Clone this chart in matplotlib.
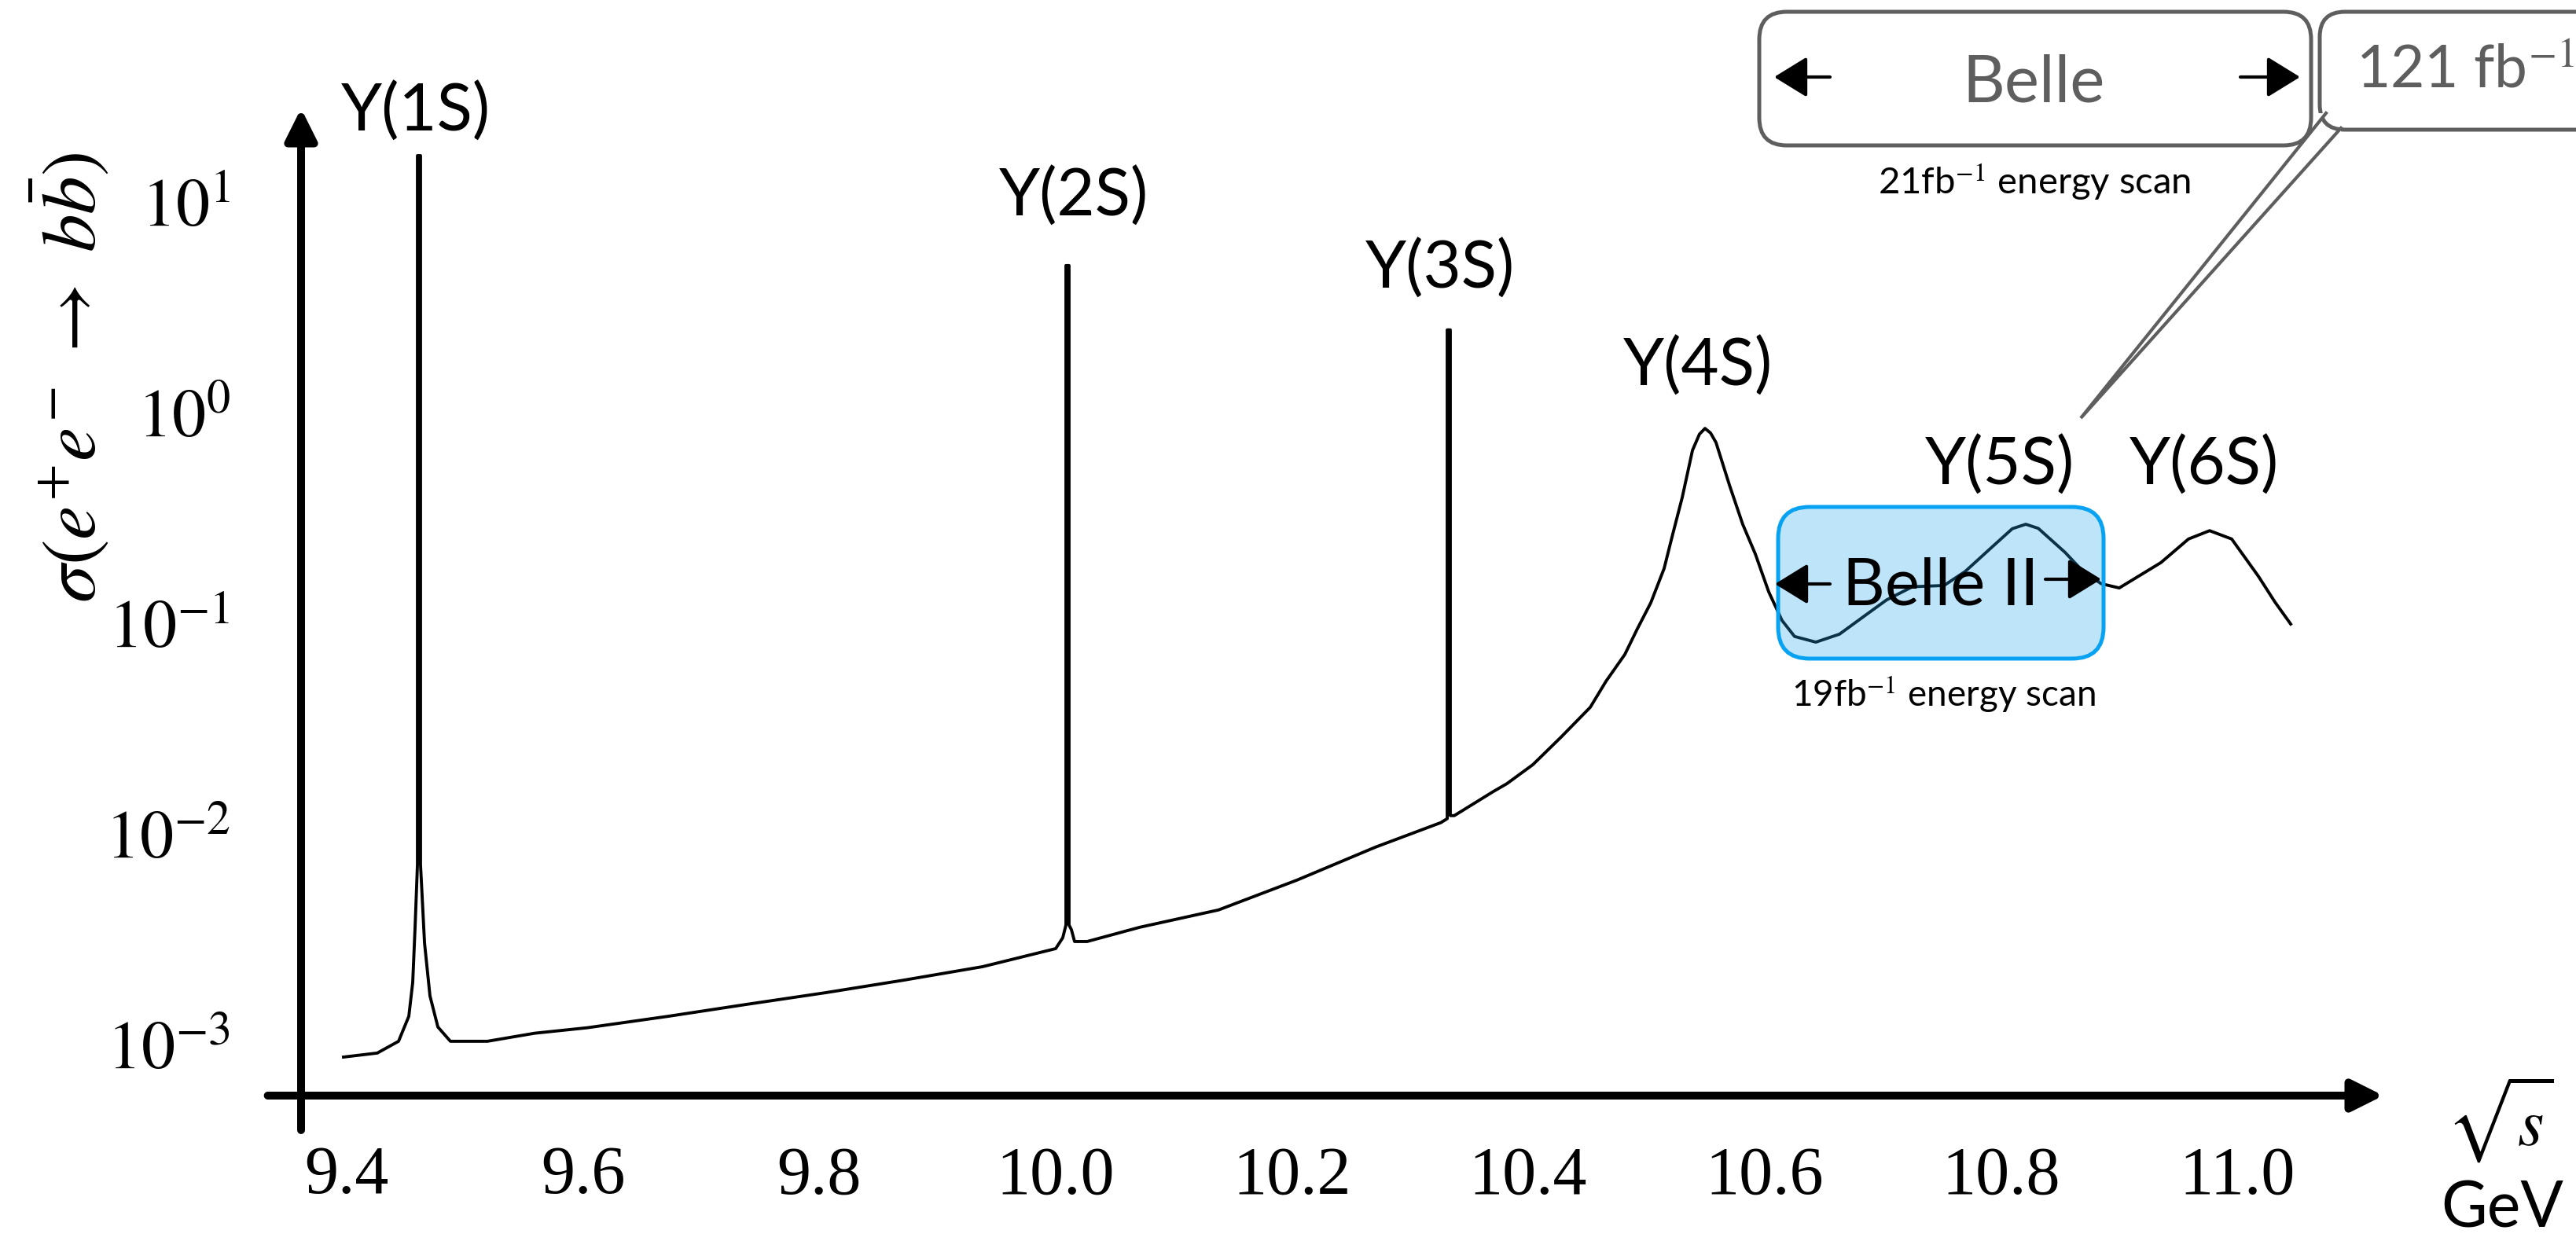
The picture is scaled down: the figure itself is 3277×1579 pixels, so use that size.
import matplotlib
matplotlib.use("Agg")
import matplotlib.pyplot as plt
from matplotlib.patches import FancyBboxPatch, Polygon

plt.rcParams['mathtext.fontset'] = 'stix'
plt.rcParams['font.family'] = ['Lato', 'DejaVu Sans']

# b-bbar production cross section vs. centre-of-mass energy (GeV)
energy = [
    9.3973, 9.4259, 9.4439, 9.4526, 9.4559, 9.4579, 9.4599, 9.4599, 9.4625, 9.4625,
    9.4659, 9.4705, 9.4772, 9.4878, 9.5191, 9.5590, 9.6036, 9.6721, 9.7387, 9.8052,
    9.8717, 9.9383, 10.0001, 10.0061, 10.0088, 10.0088, 10.0114, 10.0114, 10.0134, 10.0161,
    10.0267, 10.0713, 10.1379, 10.2044, 10.2709, 10.3261, 10.3315, 10.3315, 10.3341, 10.3341,
    10.3375, 10.3707, 10.3820, 10.4040, 10.4279, 10.4526, 10.4659, 10.4818, 10.4925, 10.5038,
    10.5151, 10.5218, 10.5304, 10.5391, 10.5450, 10.5497, 10.5544, 10.5590, 10.5703, 10.5816,
    10.5923, 10.6036, 10.6149, 10.6255, 10.6435, 10.6635, 10.6854, 10.7034, 10.7253, 10.7520,
    10.7699, 10.7919, 10.8098, 10.8212, 10.8318, 10.8544, 10.8697, 10.8850, 10.9003, 10.9356,
    10.9589, 10.9768, 10.9955, 11.0181, 11.0321, 11.0454,
]
sigma = [
    8.71e-4, 9.10e-4, 1.035e-3, 1.36e-3, 1.97e-3, 3.60e-3, 7.14e-3, 16.6, 16.6, 7.14e-3,
    3.03e-3, 1.70e-3, 1.21e-3, 1.035e-3, 1.035e-3, 1.13e-3, 1.20e-3, 1.36e-3, 1.55e-3, 1.76e-3,
    2.02e-3, 2.34e-3, 2.85e-3, 3.21e-3, 3.69e-3, 4.99, 4.99, 3.69e-3, 3.51e-3, 3.08e-3,
    3.08e-3, 3.60e-3, 4.35e-3, 6.03e-3, 8.65e-3, 1.13e-2, 1.18e-2, 2.47, 2.47, 1.22e-2,
    1.22e-2, 1.59e-2, 1.73e-2, 2.13e-2, 2.88e-2, 3.99e-2, 5.30e-2, 7.10e-2, 9.42e-2, 0.125,
    0.182, 0.257, 0.395, 0.662, 0.790, 0.841, 0.800, 0.721, 0.454, 0.295,
    0.213, 0.141, 0.103, 0.0865, 0.0813, 0.0887, 0.109, 0.129, 0.149, 0.151,
    0.176, 0.228, 0.281, 0.295, 0.282, 0.217, 0.176, 0.154, 0.147, 0.194,
    0.251, 0.275, 0.251, 0.167, 0.126, 0.0991,
]

resonances = ["Υ(1S)", "Υ(2S)", "Υ(3S)", "Υ(4S)", "Υ(5S)", "Υ(6S)"]
res_label_e = [9.4585, 10.0154, 10.3255, 10.5437, 10.7992, 10.9722]
res_label_sigma = [21.7, 8.57, 3.89, 1.34, 0.454, 0.454]

x_ticks = [9.4, 9.6, 9.8, 10.0, 10.2, 10.4, 10.6, 10.8, 11.0]
x_tick_labels = ["9.4", "9.6", "9.8", "10.0", "10.2", "10.4", "10.6", "10.8", "11.0"]
y_ticks = [1e-3, 1e-2, 1e-1, 1e0, 1e1]
y_tick_labels = [r"$10^{-3}$", r"$10^{-2}$", r"$10^{-1}$", r"$10^{0}$", r"$10^{1}$"]

W, H = 3277, 1579
fig = plt.figure(figsize=(W / 100, H / 100), dpi=100)
ax = fig.add_axes([383 / W, 1 - 1394 / H, (3032 - 383) / W, (1394 - 138) / H])
ax.set_yscale('log')
ax.set_xlim(9.3614, 11.1239)
ax.set_ylim(10 ** -3.243, 10 ** 1.444)
for sp in ax.spines.values():
    sp.set_visible(False)

ax.plot(energy, sigma, color='black', lw=2.8, solid_joinstyle='round')

ax.set_xticks(x_ticks, x_tick_labels, fontfamily='Liberation Serif')
ax.set_yticks(y_ticks, y_tick_labels)
ax.minorticks_off()
ax.tick_params(axis='both', length=0, labelsize=62)
ax.tick_params(axis='x', pad=46)
ax.tick_params(axis='y', pad=65)

ax.set_ylabel(r"$\sigma(e^{+}e^{-}\ \rightarrow\ b\bar{b})$", fontsize=70, va='center')
ax.yaxis.set_label_coords(-0.1114, 0.727)

# axis arrows
axis_arrow = dict(arrowstyle='-|>,head_length=0.6,head_width=0.3', mutation_scale=40,
                  lw=7.2, color='black', shrinkA=0, shrinkB=0)
ax.annotate('', xy=(1, 0), xytext=(-0.016, 0), xycoords='axes fraction',
            arrowprops=axis_arrow, annotation_clip=False)
ax.annotate('', xy=(0, 1), xytext=(0, -0.035), xycoords='axes fraction',
            arrowprops=axis_arrow, annotation_clip=False)

for name, e, s in zip(resonances, res_label_e, res_label_sigma):
    ax.text(e, s, name, ha='center', va='baseline', fontsize=60, color='black')

# overlay in pixel units for the annotation boxes
ov = fig.add_axes([0, 0, 1, 1])
ov.set_xlim(0, W)
ov.set_ylim(H, 0)
ov.axis('off')

grey = '#5e5e5e'
small_arrow = dict(arrowstyle='-|>,head_length=1.3,head_width=0.8', mutation_scale=20,
                   lw=3.0, color='black', shrinkA=0, shrinkB=0)

# Belle scan box
ov.add_patch(FancyBboxPatch((2238, 15), 702, 170, boxstyle='round,pad=0,rounding_size=35',
                            facecolor='white', edgecolor=grey, lw=3.6))
ov.text(2587, 130, "Belle", ha='center', va='baseline', fontsize=60, color=grey)
ov.annotate('', xy=(2257, 98), xytext=(2328, 98), arrowprops=small_arrow)
ov.annotate('', xy=(2926, 98), xytext=(2850, 98), arrowprops=small_arrow)
ov.text(2588, 247, r"21fb$^{-1}$ energy scan", ha='center', va='baseline', fontsize=34)

# 121 fb^-1 callout
ov.add_patch(FancyBboxPatch((2951, 15), 400, 150, boxstyle='round,pad=0,rounding_size=32',
                            facecolor='white', edgecolor=grey, lw=3.6))
ov.add_patch(Polygon([(2959, 144), (2647, 532), (2978, 163), (2978, 172), (2944, 172), (2944, 144)],
                     closed=True, facecolor='white', edgecolor='none'))
ov.plot([2959, 2647, 2978], [144, 532, 163], color=grey, lw=3.0, solid_joinstyle='miter')
ov.text(2997, 112, r"121 fb$^{-1}$", ha='left', va='baseline', fontsize=54, color=grey)

# Belle II scan box
ov.add_patch(FancyBboxPatch((2262, 645), 414, 193, boxstyle='round,pad=0,rounding_size=40',
                            facecolor=(0.15, 0.66, 0.93, 0.3), edgecolor='#08a2f2', lw=3.6))
ov.text(2469, 770, "Belle II", ha='center', va='baseline', fontsize=60, color='black')
ov.annotate('', xy=(2258, 743), xytext=(2328, 743), arrowprops=small_arrow)
ov.annotate('', xy=(2673, 737), xytext=(2602, 737), arrowprops=small_arrow)
ov.text(2472, 898, r"19fb$^{-1}$ energy scan", ha='center', va='baseline', fontsize=33)

# energy axis label
ov.text(3180, 1457, r"$\sqrt{s}$", ha='center', va='baseline', fontsize=62)
ov.text(3183, 1562, "GeV", ha='center', va='baseline', fontsize=58, color='black')

fig.savefig("out.png", dpi=100)
